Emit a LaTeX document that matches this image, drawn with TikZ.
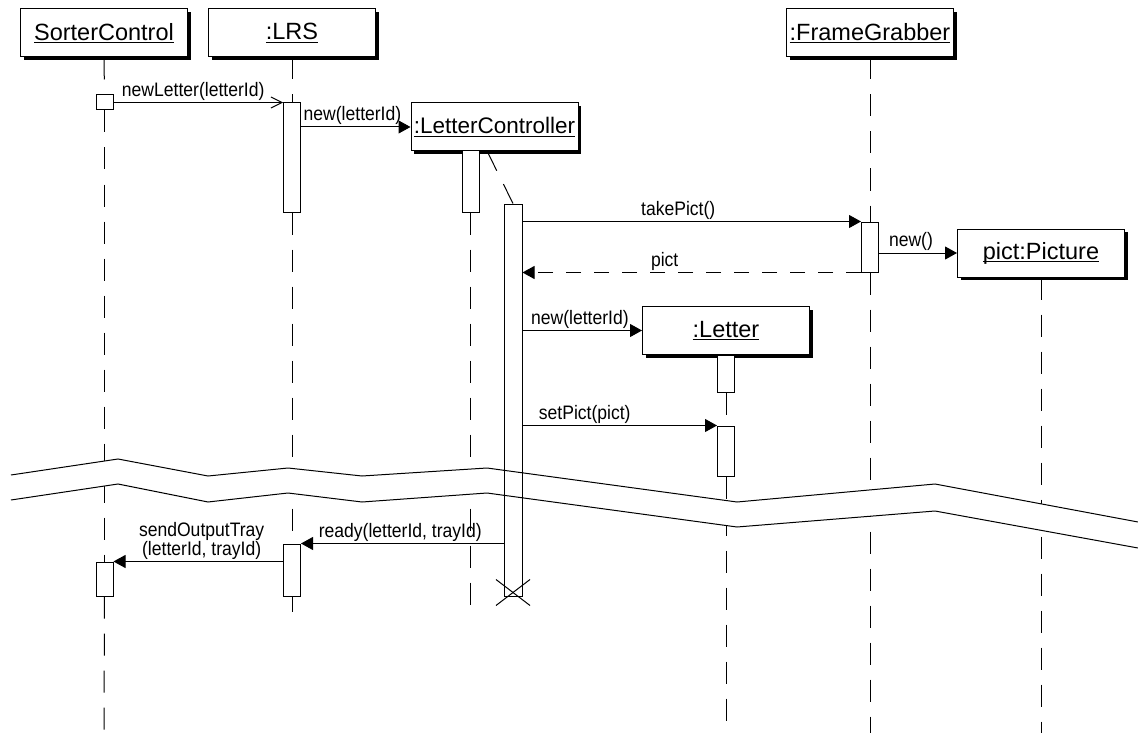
\documentclass[tikz,border=0pt]{standalone}
\usepackage{fontspec}
\setmainfont{Liberation Sans}
\newfontfamily\msgfont{Liberation Sans}[FakeStretch=0.9]
\usetikzlibrary{arrows.meta, positioning, shadows}
\pgfdeclarelayer{background}
\pgfsetlayers{background,main}

% underlined object name, as in UML
\newsavebox{\objbox}
\newcommand{\objname}[1]{\sbox{\objbox}{#1}\rlap{\rule[-3pt]{\wd\objbox}{1pt}}\usebox{\objbox}}

\tikzset{
object/.style={ % head of a lifeline
  draw, fill=white, line width=1pt,
  minimum width=167pt, minimum height=48pt, inner sep=0pt,
  font=\fontsize{23.5pt}{28pt}\selectfont,
  drop shadow={shadow xshift=3pt, shadow yshift=-3pt, fill=black, opacity=1}},
act/.style={draw, fill=white, line width=1pt, minimum width=17pt, inner sep=0pt}, % activation bar
lifeline/.style={line width=1pt, dash pattern=on 22pt off 15pt},
msg/.style={draw, line width=1pt, -{Triangle[length=12pt, width=13pt]}},
open msg/.style={draw, line width=1pt, -{Straight Barb[length=11pt, width=11pt]}},
ret/.style={msg, dash pattern=on 15pt off 13pt},
lbl/.style={font=\fontsize{19.5pt}{19pt}\msgfont, inner sep=1.5pt, anchor=south}}

\begin{document}
\begin{tikzpicture}[x=1pt, y=-1pt]
    \useasboundingbox (0,0) rectangle (1138,733);

    % objects
    \node[object] (sc) at (104,33) {\objname{SorterControl}};
    \node[object] (lrs) at (292,33) {\objname{:LRS}};
    \node[object, font=\fontsize{22.5pt}{27pt}\selectfont] (lc) at (494.5,127) {\objname{:LetterController}};
    \node[object] (fg) at (870,33) {\objname{:FrameGrabber}};
    \node[object] (pic) at (1041,253) {\objname{pict:Picture}};
    \node[object] (let) at (726,330.5) {\objname{:Letter}};

    % activations
    \node[act, minimum height=15pt] (scA1) at (104.5,102.5) {};
    \node[act, minimum height=34pt] (scA2) at (104.5,579) {};
    \node[act, minimum height=109pt] (lrsA1) at (292,157.5) {};
    \node[act, minimum height=52pt] (lrsA2) at (292,570) {};
    \node[act, minimum height=61pt] (lcA1) at (470.5,181.5) {};
    \node[act, minimum height=392pt, minimum width=18pt] (lcA2) at (513,400) {};
    \node[act, minimum height=50pt] (fgA1) at (870,247) {};
    \node[act, minimum height=37pt, below=0pt of let] (letA1) {};
    \node[act, minimum height=50pt] (letA2) at (726,451) {};

    \coordinate (scEnd) at (104,733);
    \coordinate (lrsEnd) at (292,612);
    \coordinate (lcEnd) at (470.5,606);
    \coordinate (lcDiag) at (487,151);
    \coordinate (fgEnd) at (870,733);
    \coordinate (picEnd) at (1041,733);
    \coordinate (letEnd) at (726,733);

    \begin{pgfonlayer}{background}
    \draw[lifeline] (sc.south) -- (scA1.north);
    \draw[lifeline] (scA1.south) -- (scA2.north);
    \draw[lifeline] (scA2.south) -- (scEnd);
    \draw[lifeline] (lrs.south) -- (lrsA1.north);
    \draw[lifeline] (lrsA1.south) -- (lrsA2.north);
    \draw[lifeline] (lrsA2.south) -- (lrsEnd);
    \draw[lifeline] (lcA1.south) -- (lcEnd);
    \draw[lifeline] (lcDiag) -- (lcA2.north);
    \draw[lifeline] (fg.south) -- (fgA1.north);
    \draw[lifeline] (fgA1.south) -- (fgEnd);
    \draw[lifeline] (pic.south) -- (picEnd);
    \draw[lifeline] (letA1.south) -- (letA2.north);
    \draw[lifeline] (letA2.south) -- (letEnd);
    % time break
    \fill[white] (11,475) -- (118,459) -- (208,476) -- (288,468) -- (362,476) -- (487,468)
        -- (737,502) -- (935,484) -- (1138,522) -- (1138,548) -- (935,511) -- (737,527)
        -- (487,493) -- (362,502) -- (288,493) -- (208,502) -- (118,484) -- (11,500) -- cycle;
    \end{pgfonlayer}

    % messages
    \draw (scA1.east) edge[open msg] node[lbl, pos=0.47] {newLetter(letterId)} (scA1.east -| lrsA1.west);
    \draw (lrsA1.east |- lc.west) edge[msg] node[lbl, pos=0.47] {new(letterId)} (lc.west);
    \draw (lcA2.east |- fgA1.north) edge[msg] node[lbl, pos=0.46] {takePict()} (fgA1.north west);
    \draw (fgA1.south west) edge[ret] node[lbl, pos=0.58] {pict} (lcA2.east |- fgA1.south);
    \draw (fgA1.east |- pic.west) edge[msg] node[lbl, pos=0.41] {new()} (pic.west);
    \draw (lcA2.east |- let.west) edge[msg] node[lbl, pos=0.48] {new(letterId)} (let.west);
    \draw (lcA2.east |- letA2.north) edge[msg] node[lbl, pos=0.32] {setPict(pict)} (letA2.north west);
    \draw (lcA2.west |- lrsA2.north) edge[msg] node[lbl, pos=0.51] {ready(letterId, trayId)} (lrsA2.north east);
    \draw (lrsA2.west |- scA2.north) edge[msg] node[lbl, pos=0.48, align=center] {sendOutputTray\\(letterId, trayId)} (scA2.north east);

    % destruction
    \draw[line width=1pt] ([shift={(-17,-17)}]lcA2.south) -- ([shift={(17,9)}]lcA2.south);
    \draw[line width=1pt] ([shift={(17,-17)}]lcA2.south) -- ([shift={(-17,9)}]lcA2.south);

    % break lines
    \draw[line width=1pt] (11,475) -- (118,459) -- (208,476) -- (288,468) -- (362,476) -- (487,468)
        -- (737,502) -- (935,484) -- (1138,522);
    \draw[line width=1pt] (11,500) -- (118,484) -- (208,502) -- (288,493) -- (362,502) -- (487,493)
        -- (737,527) -- (935,511) -- (1138,548);

\end{tikzpicture}
\end{document}
